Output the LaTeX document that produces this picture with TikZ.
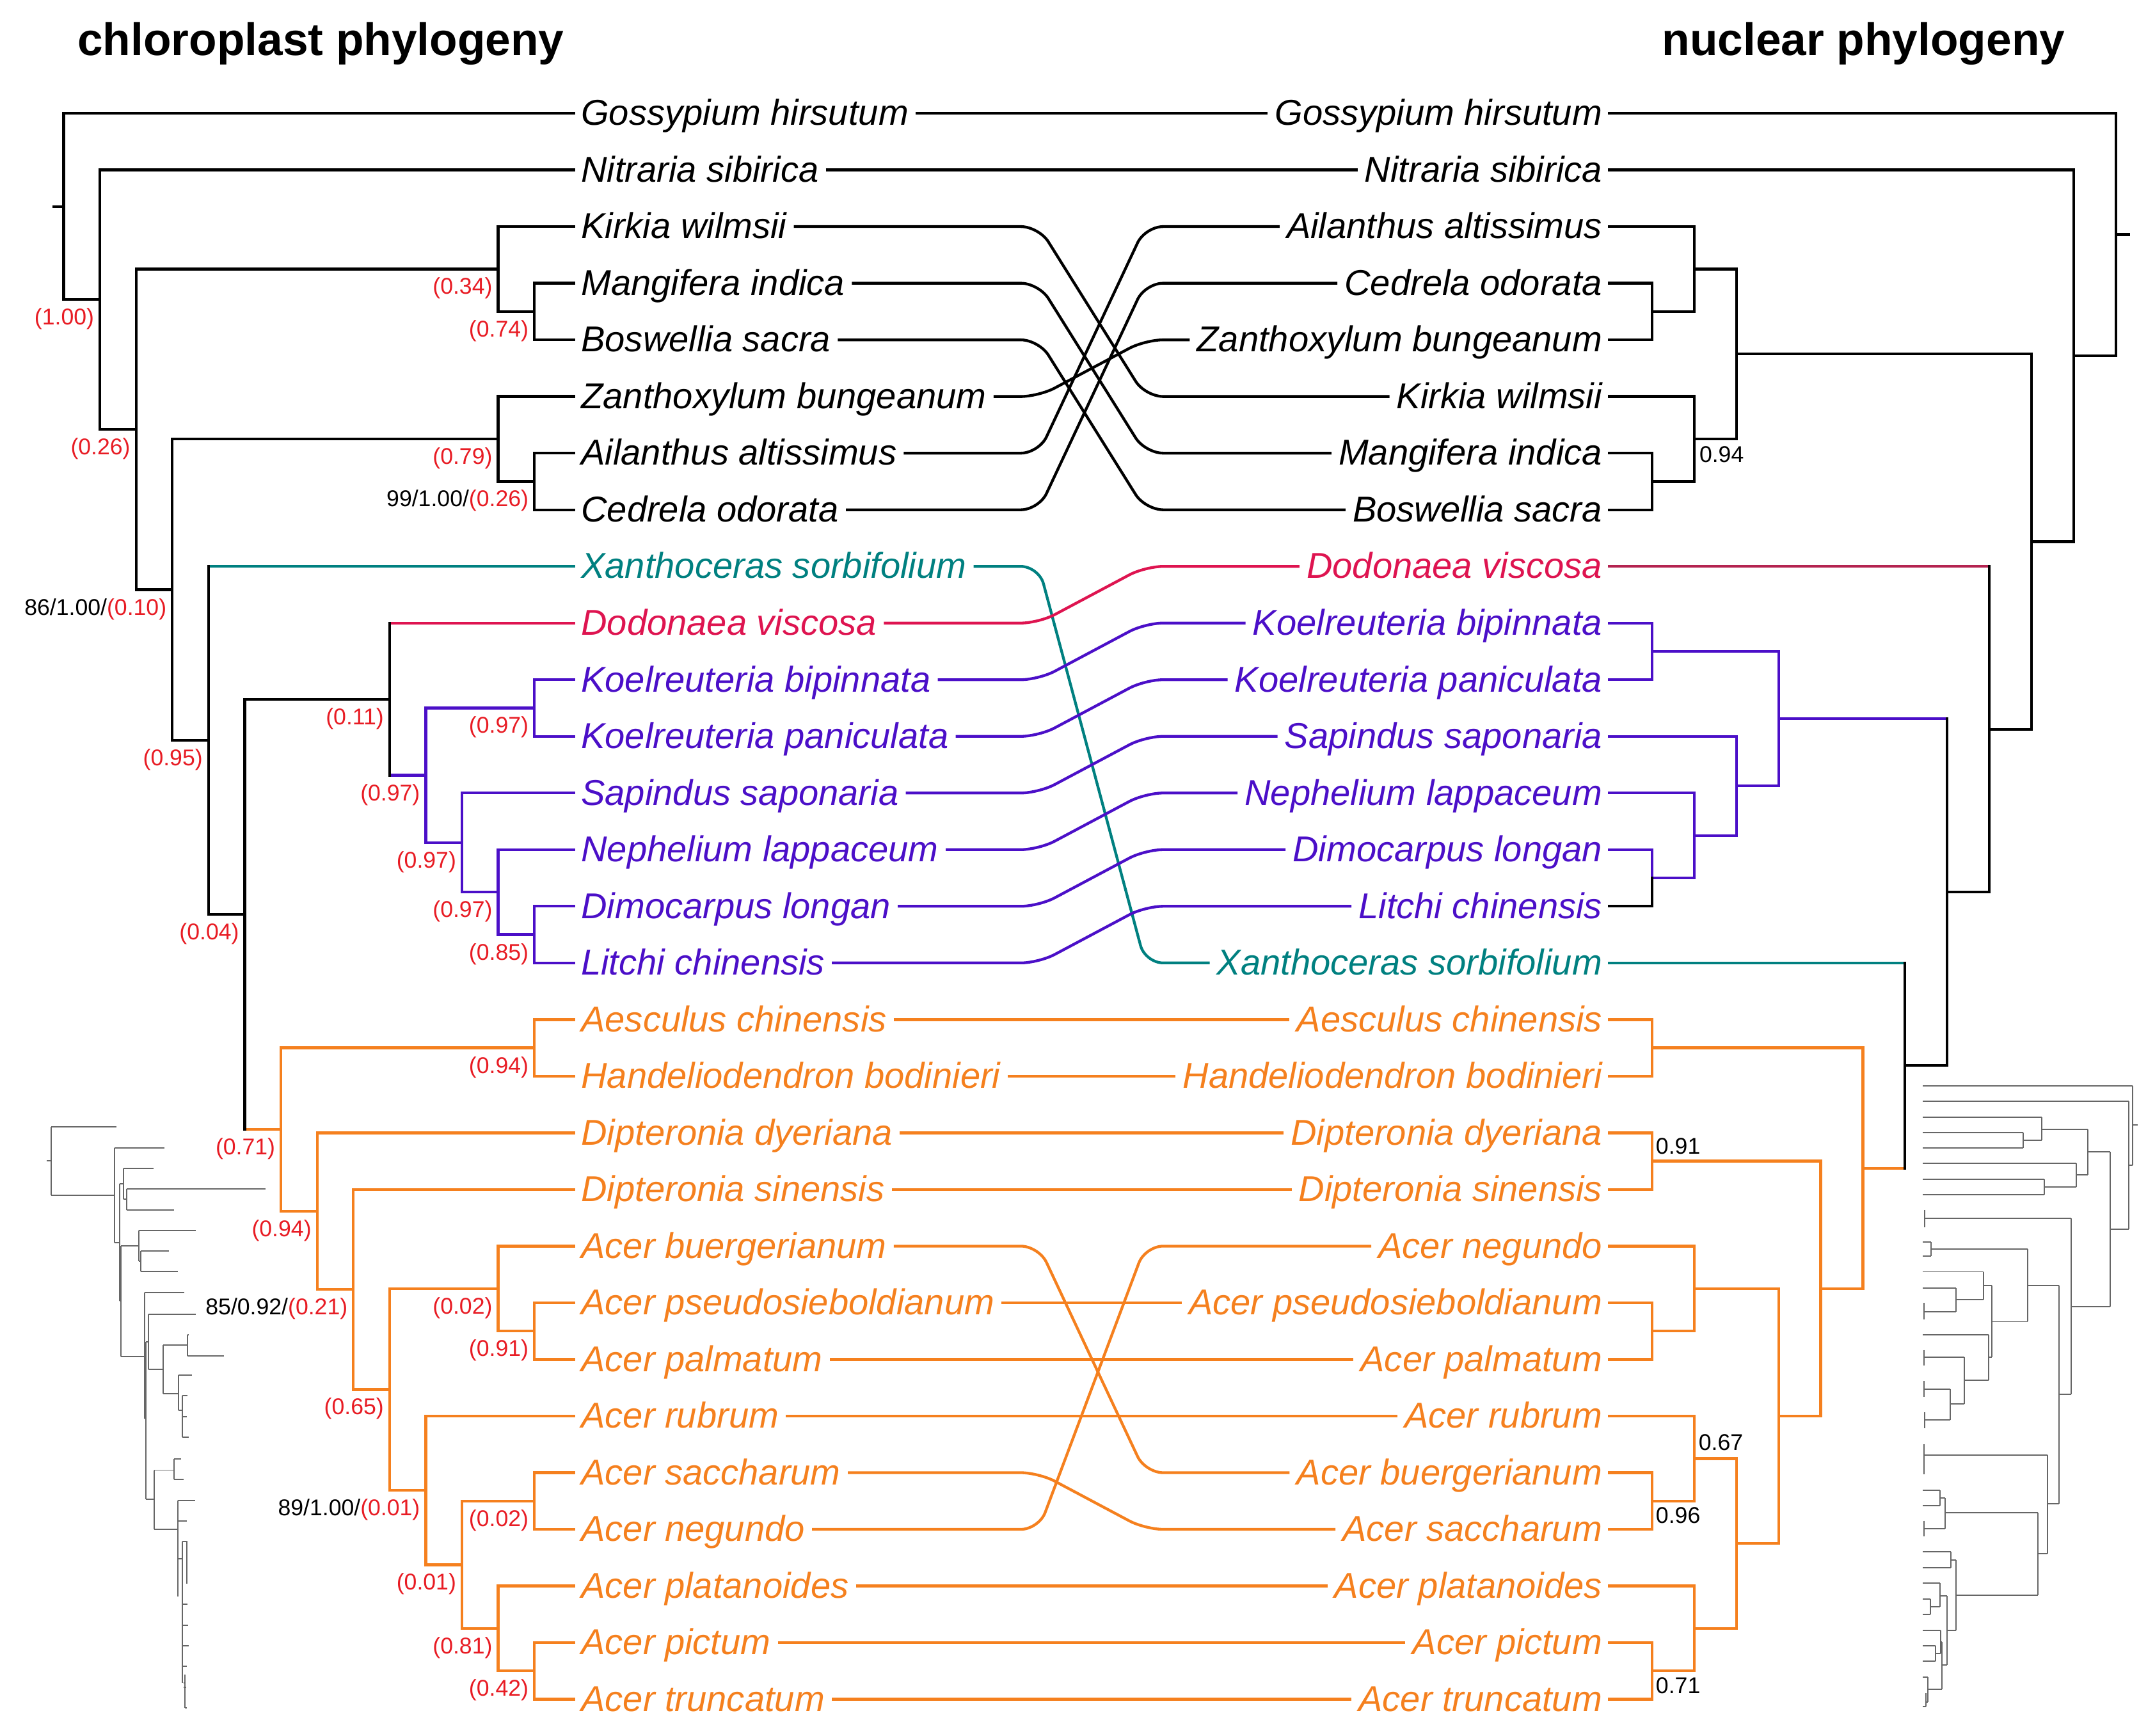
\documentclass[tikz,border=0pt]{standalone}
\usepackage{fontspec}
\setmainfont{Liberation Sans}
\usetikzlibrary{calc}
\definecolor{cred}{RGB}{232,28,36}
\definecolor{tealc}{RGB}{0,128,128}
\definecolor{crim}{RGB}{222,20,80}
\definecolor{crimd}{RGB}{180,35,80}
\definecolor{purp}{RGB}{75,15,200}
\definecolor{orng}{RGB}{245,128,30}
\newcommand\taxfont{\fontsize{26}{30}\selectfont\itshape}
\newcommand\labfont{\fontsize{16.5}{19}\selectfont}
\newcommand\ttlfont{\fontsize{33}{38}\selectfont\bfseries}
\newcommand\LN[4][black]{\draw[tl,#1] (#3.west) -| (#2) |- (#4.west);}
\newcommand\RN[4][black]{\draw[tl,#1] (#3.east) -| (#2) |- (#4.east);}
\newcommand\connS[2][black]{\draw[cn,#1] (L#2.east) -- (R#2.west);}
\newcommand\connC[2][black]{\draw[cn,#1,rounded corners=13pt] (L#2.east) -- (L#2.east -| cL) -- (R#2.west -| cR) -- (R#2.west);}
\newcommand\llab[3][]{\node[lab,anchor=east] at ($(#2)+(-4,14)$) {#1\textcolor{cred}{(#3)}};}
\begin{document}
\begin{tikzpicture}[x=1pt,y=-1pt,
  taxL/.style={font=\taxfont, inner xsep=5pt, inner ysep=0pt, text height=23.4pt, text depth=6pt, anchor=west},
  taxR/.style={font=\taxfont, inner xsep=5pt, inner ysep=0pt, text height=23.4pt, text depth=6pt, anchor=east},
  tl/.style={line width=2pt, line cap=rect},
  cn/.style={line width=2pt},
  lab/.style={font=\labfont, inner sep=0pt},
  st/.style={line width=0.9pt, black!60}]
\fill[white] (0,0) rectangle (1560,1256.6);
\useasboundingbox (0,0) rectangle (1560,1256.6);

% titles
\node[font=\ttlfont, inner sep=0pt, anchor=base west] (t1) at (56,40) {chloroplast phylogeny};
\node[font=\ttlfont, inner sep=0pt, anchor=base east] (t2) at (1495,40) {nuclear phylogeny};

% left taxa
\node[taxL] (LGos) at (415.5,82) {Gossypium hirsutum};
\node[taxL] (LNit) at (415.5,123) {Nitraria sibirica};
\node[taxL] (LKir) at (415.5,164) {Kirkia wilmsii};
\node[taxL] (LMan) at (415.5,205) {Mangifera indica};
\node[taxL] (LBos) at (415.5,246) {Boswellia sacra};
\node[taxL] (LZan) at (415.5,287) {Zanthoxylum bungeanum};
\node[taxL] (LAil) at (415.5,328) {Ailanthus altissimus};
\node[taxL] (LCed) at (415.5,369) {Cedrela odorata};
\node[taxL,text=tealc] (LXan) at (415.5,410) {Xanthoceras sorbifolium};
\node[taxL,text=crim] (LDod) at (415.5,451) {Dodonaea viscosa};
\node[taxL,text=purp] (LKbip) at (415.5,492) {Koelreuteria bipinnata};
\node[taxL,text=purp] (LKpan) at (415.5,533) {Koelreuteria paniculata};
\node[taxL,text=purp] (LSap) at (415.5,574) {Sapindus saponaria};
\node[taxL,text=purp] (LNep) at (415.5,615) {Nephelium lappaceum};
\node[taxL,text=purp] (LDim) at (415.5,656) {Dimocarpus longan};
\node[taxL,text=purp] (LLit) at (415.5,697) {Litchi chinensis};
\node[taxL,text=orng] (LAes) at (415.5,738) {Aesculus chinensis};
\node[taxL,text=orng] (LHan) at (415.5,779) {Handeliodendron bodinieri};
\node[taxL,text=orng] (LDdy) at (415.5,820) {Dipteronia dyeriana};
\node[taxL,text=orng] (LDsi) at (415.5,861) {Dipteronia sinensis};
\node[taxL,text=orng] (LAbue) at (415.5,902) {Acer buergerianum};
\node[taxL,text=orng] (LApse) at (415.5,943) {Acer pseudosieboldianum};
\node[taxL,text=orng] (LApal) at (415.5,984) {Acer palmatum};
\node[taxL,text=orng] (LArub) at (415.5,1025) {Acer rubrum};
\node[taxL,text=orng] (LAsac) at (415.5,1066) {Acer saccharum};
\node[taxL,text=orng] (LAneg) at (415.5,1107) {Acer negundo};
\node[taxL,text=orng] (LApla) at (415.5,1148) {Acer platanoides};
\node[taxL,text=orng] (LApic) at (415.5,1189) {Acer pictum};
\node[taxL,text=orng] (LAtru) at (415.5,1230) {Acer truncatum};

% right taxa
\node[taxR] (RGos) at (1165,82) {Gossypium hirsutum};
\node[taxR] (RNit) at (1165,123) {Nitraria sibirica};
\node[taxR] (RAil) at (1165,164) {Ailanthus altissimus};
\node[taxR] (RCed) at (1165,205) {Cedrela odorata};
\node[taxR] (RZan) at (1165,246) {Zanthoxylum bungeanum};
\node[taxR] (RKir) at (1165,287) {Kirkia wilmsii};
\node[taxR] (RMan) at (1165,328) {Mangifera indica};
\node[taxR] (RBos) at (1165,369) {Boswellia sacra};
\node[taxR,text=crim] (RDod) at (1165,410) {Dodonaea viscosa};
\node[taxR,text=purp] (RKbip) at (1165,451) {Koelreuteria bipinnata};
\node[taxR,text=purp] (RKpan) at (1165,492) {Koelreuteria paniculata};
\node[taxR,text=purp] (RSap) at (1165,533) {Sapindus saponaria};
\node[taxR,text=purp] (RNep) at (1165,574) {Nephelium lappaceum};
\node[taxR,text=purp] (RDim) at (1165,615) {Dimocarpus longan};
\node[taxR,text=purp] (RLit) at (1165,656) {Litchi chinensis};
\node[taxR,text=tealc] (RXan) at (1165,697) {Xanthoceras sorbifolium};
\node[taxR,text=orng] (RAes) at (1165,738) {Aesculus chinensis};
\node[taxR,text=orng] (RHan) at (1165,779) {Handeliodendron bodinieri};
\node[taxR,text=orng] (RDdy) at (1165,820) {Dipteronia dyeriana};
\node[taxR,text=orng] (RDsi) at (1165,861) {Dipteronia sinensis};
\node[taxR,text=orng] (RAneg) at (1165,902) {Acer negundo};
\node[taxR,text=orng] (RApse) at (1165,943) {Acer pseudosieboldianum};
\node[taxR,text=orng] (RApal) at (1165,984) {Acer palmatum};
\node[taxR,text=orng] (RArub) at (1165,1025) {Acer rubrum};
\node[taxR,text=orng] (RAbue) at (1165,1066) {Acer buergerianum};
\node[taxR,text=orng] (RAsac) at (1165,1107) {Acer saccharum};
\node[taxR,text=orng] (RApla) at (1165,1148) {Acer platanoides};
\node[taxR,text=orng] (RApic) at (1165,1189) {Acer pictum};
\node[taxR,text=orng] (RAtru) at (1165,1230) {Acer truncatum};

% connector bend columns
\coordinate (cL) at (752,0);
\coordinate (cR) at (829,0);

% left tree internal nodes
\coordinate (lnRs) at (39,149.45);
\coordinate (lnR) at (46.1,149.45);
\coordinate (lnN1) at (72.3,216.9);
\coordinate (lnN2) at (98.5,310.79);
\coordinate (lnA) at (360.6,194.75);
\coordinate (lnA2) at (386.8,225.5);
\coordinate (lnN3) at (124.7,426.84);
\coordinate (lnZ) at (360.6,317.75);
\coordinate (lnZ2) at (386.8,348.5);
\coordinate (lnN4) at (150.9,535.92);
\coordinate (lnN5) at (177.2,661.84);
\coordinate (lnS) at (282,506.09);
\coordinate (lnS2) at (308.2,561.19);
\coordinate (lnK) at (386.8,512.5);
\coordinate (lnS3) at (334.4,609.88);
\coordinate (lnS4) at (360.6,645.75);
\coordinate (lnS5) at (386.8,676.5);
\coordinate (lnO) at (203.4,817.6);
\coordinate (lnAH) at (386.8,758.5);
\coordinate (lnO2) at (229.6,876.7);
\coordinate (lnO3) at (255.8,933.39);
\coordinate (lnO4) at (282,1005.78);
\coordinate (lnB1) at (360.6,932.75);
\coordinate (lnB2) at (386.8,963.5);
\coordinate (lnO5) at (308.2,1078.81);
\coordinate (lnO6) at (334.4,1132.63);
\coordinate (lnSN) at (386.8,1086.5);
\coordinate (lnP) at (360.6,1178.75);
\coordinate (lnP2) at (386.8,1209.5);

% left tree
\draw[tl] (lnRs) -- (lnR);
\LN{lnR}{LGos}{lnN1}
\LN{lnN1}{LNit}{lnN2}
\LN{lnN2}{lnA}{lnN3}
\LN{lnA}{LKir}{lnA2}
\LN{lnA2}{LMan}{LBos}
\LN{lnN3}{lnZ}{lnN4}
\LN{lnZ}{LZan}{lnZ2}
\LN{lnZ2}{LAil}{LCed}
\draw[tl,tealc] (LXan.west) -- (lnN4 |- LXan);
\draw[tl] (lnN4 |- LXan) |- (lnN5);
\draw[tl,orng] (lnO) -- (lnN5 |- lnO);
\draw[tl] (lnS) -| (lnN5) |- (lnN5 |- lnO);
\draw[tl,crim] (LDod.west) -- (lnS |- LDod);
\draw[tl,purp] (lnS2) -- (lnS |- lnS2);
\draw[tl] (lnS |- LDod) -- (lnS |- lnS2);
\LN[purp]{lnS2}{lnK}{lnS3}
\LN[purp]{lnK}{LKbip}{LKpan}
\LN[purp]{lnS3}{LSap}{lnS4}
\LN[purp]{lnS4}{LNep}{lnS5}
\LN[purp]{lnS5}{LDim}{LLit}
\LN[orng]{lnO}{lnAH}{lnO2}
\LN[orng]{lnAH}{LAes}{LHan}
\LN[orng]{lnO2}{LDdy}{lnO3}
\LN[orng]{lnO3}{LDsi}{lnO4}
\LN[orng]{lnO4}{lnB1}{lnO5}
\LN[orng]{lnB1}{LAbue}{lnB2}
\LN[orng]{lnB2}{LApse}{LApal}
\LN[orng]{lnO5}{LArub}{lnO6}
\LN[orng]{lnO6}{lnSN}{lnP}
\LN[orng]{lnSN}{LAsac}{LAneg}
\LN[orng]{lnP}{LApla}{lnP2}
\LN[orng]{lnP2}{LApic}{LAtru}

% left labels
\llab{lnN1}{1.00}
\llab{lnN2}{0.26}
\llab{lnA}{0.34}
\llab{lnA2}{0.74}
\llab{lnZ}{0.79}
\llab[99/1.00/]{lnZ2}{0.26}
\llab[86/1.00/]{lnN3}{0.10}
\llab{lnN4}{0.95}
\llab{lnN5}{0.04}
\llab{lnS}{0.11}
\llab{lnK}{0.97}
\llab{lnS2}{0.97}
\llab{lnS3}{0.97}
\llab{lnS4}{0.97}
\llab{lnS5}{0.85}
\llab{lnAH}{0.94}
\llab{lnO}{0.71}
\llab{lnO2}{0.94}
\llab[85/0.92/]{lnO3}{0.21}
\llab{lnO4}{0.65}
\llab{lnB1}{0.02}
\llab{lnB2}{0.91}
\llab[89/1.00/]{lnO5}{0.01}
\llab{lnO6}{0.01}
\llab{lnSN}{0.02}
\llab{lnP}{0.81}
\llab{lnP2}{0.42}

% right tree internal nodes
\coordinate (rnCZ) at (1196,225.5);
\coordinate (rnAC) at (1226.5,194.75);
\coordinate (rnMB) at (1196,348.5);
\coordinate (rnKMB) at (1226.5,317.75);
\coordinate (rnT) at (1257,256.25);
\coordinate (rnKK) at (1196,471.5);
\coordinate (rnDL) at (1196,635.5);
\coordinate (rnND) at (1226.5,604.75);
\coordinate (rnSND) at (1257,568.88);
\coordinate (rnPUR) at (1287.5,520.19);
\coordinate (rnAH) at (1196,758.5);
\coordinate (rnDD) at (1196,840.5);
\coordinate (rnPP) at (1196,963.5);
\coordinate (rnNPP) at (1226.5,932.75);
\coordinate (rnBS) at (1196,1086.5);
\coordinate (rnRBS) at (1226.5,1055.75);
\coordinate (rnPT) at (1196,1209.5);
\coordinate (rnPPT) at (1226.5,1178.75);
\coordinate (rnRP) at (1257,1117.25);
\coordinate (rnNR) at (1287.5,1025);
\coordinate (rnDNR) at (1318,932.75);
\coordinate (rnORA) at (1348.6,845.63);
\coordinate (rnXO) at (1379,771.31);
\coordinate (rnPX) at (1409.6,645.75);
\coordinate (rnDPX) at (1440.1,527.88);
\coordinate (rnTD) at (1470.6,392.06);
\coordinate (rnNT) at (1501.1,257.53);
\coordinate (rnR) at (1531.6,169.77);
\coordinate (rnRs) at (1541,169.77);

% right tree
\RN{rnCZ}{RCed}{RZan}
\RN{rnAC}{RAil}{rnCZ}
\RN{rnMB}{RMan}{RBos}
\RN{rnKMB}{RKir}{rnMB}
\RN{rnT}{rnAC}{rnKMB}
\RN{rnTD}{rnT}{rnDPX}
\RN{rnNT}{RNit}{rnTD}
\RN{rnR}{RGos}{rnNT}
\draw[tl] (rnR) -- (rnRs);
\draw[tl,crimd] (RDod.east) -- (rnDPX |- RDod);
\draw[tl] (rnDPX |- RDod) |- (rnPX);
\draw[tl,purp] (rnPUR) -- (rnPX |- rnPUR);
\draw[tl] (rnPX |- rnPUR) |- (rnXO);
\RN[purp]{rnPUR}{rnKK}{rnSND}
\RN[purp]{rnKK}{RKbip}{RKpan}
\RN[purp]{rnSND}{RSap}{rnND}
\RN[purp]{rnND}{RNep}{rnDL}
\draw[tl,purp] (RDim.east) -| (rnDL);
\draw[tl] (rnDL) |- (RLit.east);
\draw[tl,tealc] (RXan.east) -- (rnXO |- RXan);
\draw[tl,orng] (rnORA) -- (rnXO |- rnORA);
\draw[tl] (rnXO |- RXan) -- (rnXO |- rnORA);
\RN[orng]{rnORA}{rnAH}{rnDNR}
\RN[orng]{rnAH}{RAes}{RHan}
\RN[orng]{rnDNR}{rnDD}{rnNR}
\RN[orng]{rnDD}{RDdy}{RDsi}
\RN[orng]{rnNR}{rnNPP}{rnRP}
\RN[orng]{rnNPP}{RAneg}{rnPP}
\RN[orng]{rnPP}{RApse}{RApal}
\RN[orng]{rnRP}{rnRBS}{rnPPT}
\RN[orng]{rnRBS}{RArub}{rnBS}
\RN[orng]{rnBS}{RAbue}{RAsac}
\RN[orng]{rnPPT}{RApla}{rnPT}
\RN[orng]{rnPT}{RApic}{RAtru}

% right labels
\node[lab,anchor=west] (q1) at (1230,329) {0.94};
\node[lab,anchor=west] (q2) at (1198.5,829.5) {0.91};
\node[lab,anchor=west] (q3) at (1229.5,1044) {0.67};
\node[lab,anchor=west] (q4) at (1198.5,1097) {0.96};
\node[lab,anchor=west] (q5) at (1198.5,1220) {0.71};

% connectors
\connS{Gos}
\connS{Nit}
\connC{Kir}
\connC{Man}
\connC{Bos}
\connC{Zan}
\connC{Ail}
\connC{Ced}
\connC[tealc]{Xan}
\connC[crim]{Dod}
\connC[purp]{Kbip}
\connC[purp]{Kpan}
\connC[purp]{Sap}
\connC[purp]{Nep}
\connC[purp]{Dim}
\connC[purp]{Lit}
\connS[orng]{Aes}
\connS[orng]{Han}
\connS[orng]{Ddy}
\connS[orng]{Dsi}
\connC[orng]{Abue}
\connS[orng]{Apse}
\connS[orng]{Apal}
\connS[orng]{Arub}
\connC[orng]{Asac}
\connC[orng]{Aneg}
\connS[orng]{Apla}
\connS[orng]{Apic}
\connS[orng]{Atru}

% small chloroplast tree thumbnail (bottom left)
\begin{scope}[shift={(0,787.4)}, x=0.1544pt, y=-0.2992pt]
\draw[st] (220,177)--(240,177) (240,95)--(240,260) (240,95)--(545,95) (240,260)--(538,260)
 (538,145)--(538,375) (538,145)--(770,145) (538,375)--(560,375)
 (560,232)--(560,515) (560,232)--(578,232) (578,195)--(578,270) (578,195)--(720,195)
 (578,270)--(595,270) (595,245)--(595,295) (595,245)--(1245,245) (595,295)--(815,295)
 (560,515)--(568,515) (568,382)--(568,650) (568,382)--(650,382) (650,345)--(650,420)
 (650,345)--(918,345) (650,420)--(660,420) (660,395)--(660,445) (660,395)--(793,395)
 (660,445)--(835,445) (568,650)--(678,650) (678,495)--(678,800) (678,495)--(863,495)
 (678,800)--(683,800) (683,614)--(683,995) (683,614)--(695,614) (695,548)--(695,681)
 (695,548)--(918,548) (695,681)--(765,681) (765,622)--(765,740) (765,622)--(880,622)
 (880,598)--(880,648) (880,598)--(886,598) (880,648)--(1050,648) (765,740)--(838,740)
 (838,695)--(838,780) (838,695)--(900,695) (838,780)--(855,780) (855,745)--(855,845)
 (855,745)--(880,745) (855,795)--(875,795) (855,845)--(885,845)
 (683,995)--(722,995) (722,925)--(722,1068) (722,925)--(815,925) (815,898)--(815,948)
 (815,898)--(850,898) (815,948)--(862,948) (722,1068)--(835,1068) (835,998)--(835,1230)
 (835,998)--(915,998) (835,1048)--(875,1048) (835,1140)--(855,1140) (855,1098)--(855,1440)
 (855,1098)--(880,1098) (875,1098)--(875,1200) (855,1250)--(880,1250) (855,1300)--(882,1300)
 (855,1350)--(885,1350) (858,1400)--(875,1400) (860,1440)--(868,1440) (868,1420)--(868,1500)
 (860,1450)--(872,1450) (868,1500)--(875,1500);
\end{scope}

% small nuclear tree thumbnail (bottom right)
\begin{scope}[shift={(1366.4,764.2)}, x=0.1544pt, y=-0.3140pt]
\draw[st] (165,70)--(1148,70) (165,105)--(1130,105) (1148,70)--(1148,252) (1148,160)--(1172,160)
 (1130,252)--(1148,252) (1130,105)--(1130,400) (1045,400)--(1130,400) (1045,222)--(1045,578)
 (940,222)--(1045,222) (940,170)--(940,275) (722,170)--(940,170) (722,142)--(722,195)
 (165,142)--(722,142) (635,195)--(722,195) (635,177)--(635,212) (165,177)--(635,177)
 (165,212)--(635,212) (885,275)--(940,275) (885,248)--(885,302) (165,248)--(885,248)
 (735,302)--(885,302) (735,285)--(735,320) (165,285)--(735,285) (165,320)--(735,320)
 (860,578)--(1045,578) (860,375)--(860,780) (175,375)--(860,375) (175,355)--(175,395)
 (805,780)--(860,780) (805,530)--(805,1032) (657,530)--(805,530) (657,445)--(657,613)
 (205,445)--(657,445) (205,430)--(205,462) (165,430)--(205,430) (165,462)--(205,462)
 (490,613)--(657,613) (490,530)--(490,695) (450,530)--(490,530) (450,498)--(450,562)
 (165,498)--(450,498) (320,562)--(450,562) (320,535)--(320,590) (165,535)--(320,535)
 (170,590)--(320,590) (170,570)--(170,608) (475,695)--(490,695) (475,643)--(475,748)
 (165,643)--(475,643) (360,748)--(475,748) (360,695)--(360,803) (170,695)--(360,695)
 (170,678)--(170,714) (295,803)--(360,803) (295,768)--(295,840) (170,768)--(295,768)
 (170,750)--(170,786) (175,840)--(295,840) (175,822)--(175,858)
 (750,1032)--(805,1032) (750,920)--(750,1148) (172,920)--(750,920) (172,895)--(172,965)
 (705,1148)--(750,1148) (705,1053)--(705,1243) (270,1053)--(705,1053) (270,1020)--(270,1090)
 (245,1020)--(270,1020) (245,1002)--(245,1037) (165,1002)--(245,1002) (165,1037)--(245,1037)
 (170,1090)--(270,1090) (170,1072)--(170,1108) (320,1243)--(705,1243) (320,1162)--(320,1325)
 (297,1162)--(320,1162) (297,1143)--(297,1180) (165,1143)--(297,1143) (165,1180)--(297,1180)
 (280,1325)--(320,1325) (280,1245)--(280,1405) (245,1245)--(280,1245) (245,1215)--(245,1270)
 (165,1215)--(245,1215) (200,1270)--(245,1270) (200,1252)--(200,1288) (165,1252)--(200,1252)
 (165,1288)--(200,1288) (255,1405)--(280,1405) (255,1352)--(255,1460) (248,1352)--(255,1352)
 (165,1325)--(248,1325) (248,1325)--(248,1378) (225,1378)--(248,1378) (225,1360)--(225,1395)
 (165,1360)--(225,1360) (165,1395)--(225,1395) (190,1460)--(255,1460) (190,1432)--(190,1490)
 (165,1432)--(190,1432) (180,1490)--(190,1490) (180,1470)--(180,1500) (165,1500)--(180,1500);
\end{scope}
\end{tikzpicture}
\end{document}
